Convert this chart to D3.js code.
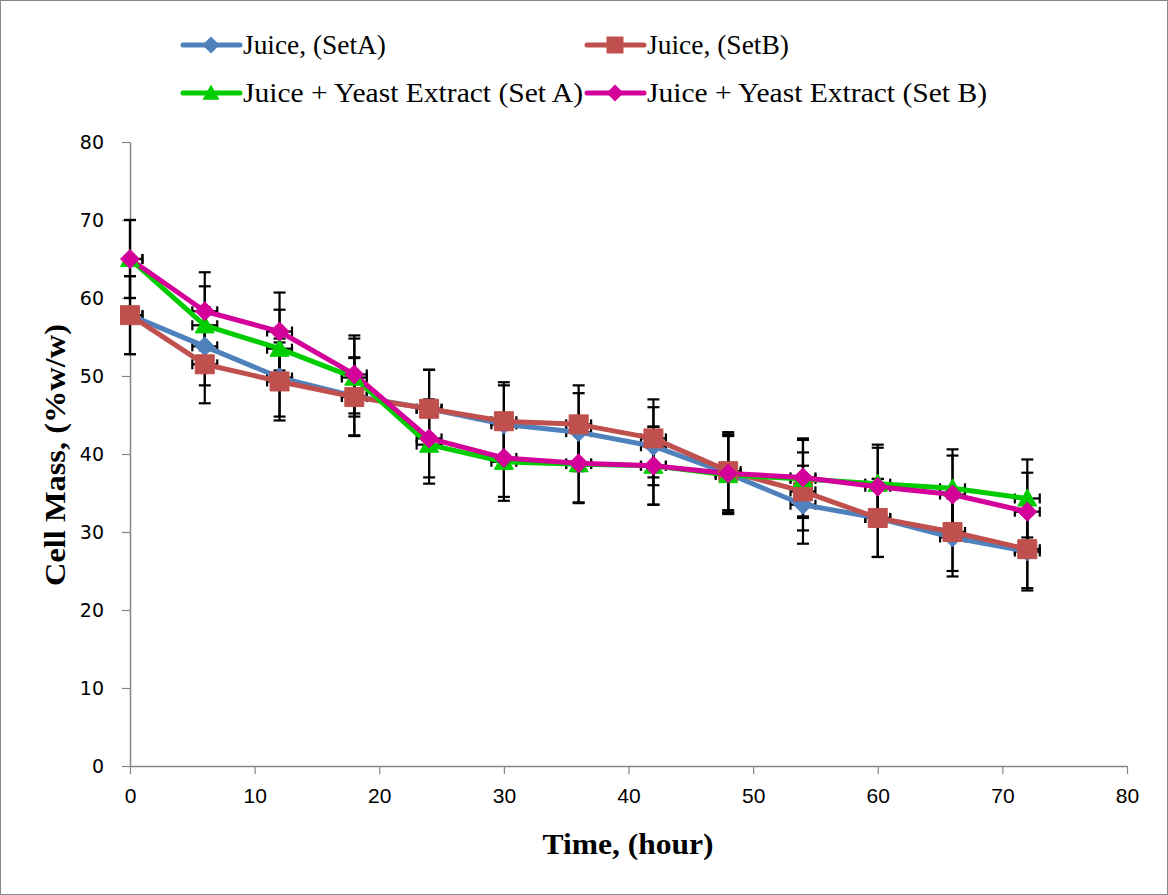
<!DOCTYPE html>
<html>
<head>
<meta charset="utf-8">
<script src="https://cdn.jsdelivr.net/npm/d3@7"></script>
<style>
html,body{margin:0;padding:0;background:#fff;}
svg{display:block;}
</style>
</head>
<body>
<svg id="chart" width="1168" height="895"></svg>
<script>
const times = [0, 6, 12, 18, 24, 30, 36, 42, 48, 54, 60, 66, 72];
const juiceSetA = [57.8, 53.8, 49.8, 47.4, 45.8, 43.8, 42.8, 41.0, 37.5, 33.5, 31.8, 29.3, 27.5];
const juiceSetB = [57.8, 51.5, 49.3, 47.3, 45.8, 44.2, 43.8, 42.0, 37.8, 35.2, 31.8, 30.0, 27.8];
const yeastSetA = [65.0, 56.5, 53.5, 49.8, 41.2, 39.0, 38.7, 38.5, 37.3, 36.8, 36.2, 35.6, 34.3];
const yeastSetB = [65.0, 58.3, 55.7, 50.2, 42.0, 39.5, 38.8, 38.5, 37.5, 37.0, 35.8, 34.8, 32.6];
const yError = 5;   // vertical error (%w/w)
const xError = 1;   // horizontal error (hour)
const xTicks = [0, 10, 20, 30, 40, 50, 60, 70, 80];
const yTicks = [0, 10, 20, 30, 40, 50, 60, 70, 80];
const seriesNames = ["Juice, (SetA)", "Juice, (SetB)", "Juice + Yeast Extract (Set A)", "Juice + Yeast Extract (Set B)"];
const seriesColors = ["#4F81BD", "#C0504D", "#00CC00", "#D4009A"];
const seriesShapes = ["diamond", "square", "triangle", "diamond"];
const seriesValues = [juiceSetA, juiceSetB, yeastSetA, yeastSetB];

const svg = d3.select("#chart");
// outer border
svg.append("rect").attr("x", 0.5).attr("y", 0.5).attr("width", 1167).attr("height", 894)
  .attr("fill", "#fff").attr("stroke", "#888").attr("stroke-width", 1);

const x = d3.scaleLinear().domain([0, 80]).range([130, 1127]);
const y = d3.scaleLinear().domain([0, 80]).range([766, 142]);

const axisColor = "#868686";
// X axis
const gx = svg.append("g").attr("transform", `translate(0,${y(0)})`)
  .call(d3.axisBottom(x).tickValues(xTicks).tickSize(8).tickSizeOuter(0).tickPadding(14));
gx.select(".domain").attr("stroke", axisColor).attr("stroke-width", 1.5);
gx.selectAll(".tick line").attr("stroke", axisColor).attr("stroke-width", 1.2);
gx.selectAll(".tick text").attr("fill", "#000").attr("font-family", "'Liberation Sans Narrow', 'Liberation Sans', Arial, sans-serif")
  .attr("font-size", 21);
// Y axis
const gy = svg.append("g").attr("transform", `translate(${x(0)},0)`)
  .call(d3.axisLeft(y).tickValues(yTicks).tickSize(8).tickSizeOuter(0).tickPadding(18));
gy.select(".domain").attr("stroke", axisColor).attr("stroke-width", 1.5);
gy.selectAll(".tick line").attr("stroke", axisColor).attr("stroke-width", 1.2);
gy.selectAll(".tick text").attr("fill", "#000").attr("font-family", "'DejaVu Sans', Verdana, sans-serif")
  .attr("font-size", 19).attr("dy", "0.35em");

// Axis titles
svg.append("text").attr("x", 628).attr("y", 854).attr("text-anchor", "middle")
  .attr("font-family", "'Liberation Serif', 'Times New Roman', serif").attr("font-weight", "bold")
  .attr("font-size", 30).attr("textLength", 171).attr("lengthAdjust", "spacingAndGlyphs")
  .text("Time, (hour)");
svg.append("text").attr("transform", "translate(65,455) rotate(-90)").attr("text-anchor", "middle")
  .attr("font-family", "'Liberation Serif', 'Times New Roman', serif").attr("font-weight", "bold")
  .attr("font-size", 30).attr("textLength", 262).attr("lengthAdjust", "spacingAndGlyphs")
  .text("Cell Mass, (%w/w)");

function markerPath(shape, s) {
  const h = s / 2;
  if (shape === "diamond") return `M0,${-h}L${h},0L0,${h}L${-h},0Z`;
  if (shape === "square") return `M${-h},${-h}H${h}V${h}H${-h}Z`;
  if (shape === "triangle") return `M0,${-h}L${h},${h * 0.8}L${-h},${h * 0.8}Z`;
}

// Error bars
const errG = svg.append("g").attr("stroke", "#000").attr("stroke-width", 2.2).attr("fill", "none");
const capW = 6, capH = 5;
seriesValues.forEach(vals => {
  vals.forEach((v, i) => {
    const cx = x(times[i]), cy = y(v);
    const top = y(v + yError), bot = y(Math.max(0, v - yError));
    errG.append("line").attr("x1", cx).attr("x2", cx).attr("y1", top).attr("y2", bot);
    errG.append("line").attr("x1", cx - capW).attr("x2", cx + capW).attr("y1", top).attr("y2", top);
    errG.append("line").attr("x1", cx - capW).attr("x2", cx + capW).attr("y1", bot).attr("y2", bot);
    const l = x(Math.max(0, times[i] - xError)), r = x(times[i] + xError);
    errG.append("line").attr("x1", l).attr("x2", r).attr("y1", cy).attr("y2", cy);
    if (times[i] - xError >= 0)
      errG.append("line").attr("x1", l).attr("x2", l).attr("y1", cy - capH).attr("y2", cy + capH);
    errG.append("line").attr("x1", r).attr("x2", r).attr("y1", cy - capH).attr("y2", cy + capH);
  });
});

// Lines and markers
const line = d3.line().x((d, i) => x(times[i])).y(d => y(d));
const markerSizes = {diamond: 19, square: 19, triangle: 19};
seriesValues.forEach((vals, k) => {
  svg.append("path").datum(vals).attr("d", line).attr("fill", "none")
    .attr("stroke", seriesColors[k]).attr("stroke-width", 5).attr("stroke-linejoin", "round");
});
seriesValues.forEach((vals, k) => {
  svg.append("g").selectAll("path").data(vals).join("path")
    .attr("transform", (d, i) => `translate(${x(times[i])},${y(d)})`)
    .attr("d", markerPath(seriesShapes[k], markerSizes[seriesShapes[k]]))
    .attr("fill", seriesColors[k]).attr("stroke", seriesColors[k]).attr("stroke-width", 1);
});

// Legend
const legendPos = [[183, 45], [587, 45], [183, 93], [587, 93]];
const legendTextLen = [143, 142, 340, 340];
seriesNames.forEach((name, k) => {
  const [lx, ly] = legendPos[k];
  const g = svg.append("g");
  g.append("line").attr("x1", lx).attr("x2", lx + 57).attr("y1", ly).attr("y2", ly)
    .attr("stroke", seriesColors[k]).attr("stroke-width", 5).attr("stroke-linecap", "round");
  g.append("path").attr("transform", `translate(${lx + 28},${ly})`)
    .attr("d", markerPath(seriesShapes[k], 17)).attr("fill", seriesColors[k]);
  g.append("text").attr("x", lx + 60).attr("y", ly).attr("dy", "0.35em")
    .attr("font-family", "'Liberation Serif', 'Times New Roman', serif").attr("font-size", 27)
    .attr("textLength", legendTextLen[k]).attr("lengthAdjust", "spacingAndGlyphs")
    .attr("fill", "#000").text(name);
});
</script>
</body>
</html>
